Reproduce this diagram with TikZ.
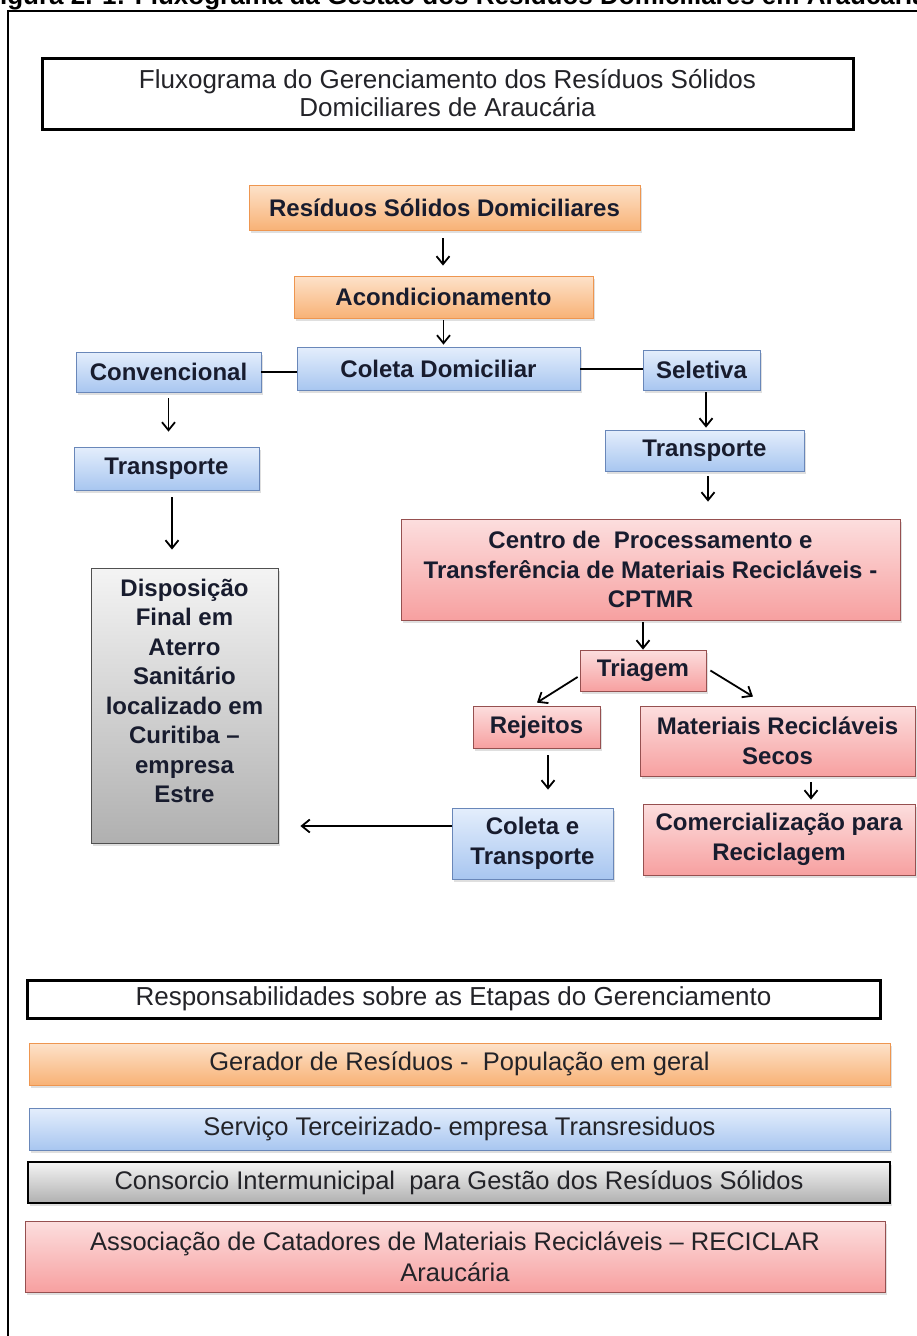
\documentclass[tikz,border=0pt]{standalone}
\usepackage{fontspec}
\setmainfont{Liberation Sans}
\usetikzlibrary{arrows.meta,calc,shadows}
\definecolor{txt}{RGB}{24,28,46}
\definecolor{ttxt}{RGB}{35,35,40}
\definecolor{otop}{RGB}{253,226,202}
\definecolor{obot}{RGB}{248,178,118}
\definecolor{obd}{RGB}{238,150,80}
\definecolor{btop}{RGB}{228,238,252}
\definecolor{bbot}{RGB}{168,198,240}
\definecolor{bbd}{RGB}{105,135,185}
\definecolor{ptop}{RGB}{252,222,222}
\definecolor{pbot}{RGB}{247,160,160}
\definecolor{pbd}{RGB}{150,80,80}
\definecolor{gtop}{RGB}{244,244,244}
\definecolor{gbot}{RGB}{176,176,176}
\definecolor{gbd}{RGB}{80,80,80}
\tikzset{
  lbl/.style={font=\bfseries\fontsize{24}{29.5}\selectfont, text=txt, align=center,
    inner sep=0pt, line width=0.8pt,
    drop shadow={shadow xshift=2pt, shadow yshift=-2.5pt, opacity=0.25}},
  obox/.style={lbl, draw=obd, top color=otop, bottom color=obot},
  bbox/.style={lbl, draw=bbd, top color=btop, bottom color=bbot},
  pbox/.style={lbl, draw=pbd, top color=ptop, bottom color=pbot},
  gbox/.style={lbl, draw=gbd, top color=gtop, bottom color=gbot},
  hbox/.style={draw=black, line width=3pt, fill=white, inner sep=0pt, align=center,
    text=ttxt, font=\fontsize{26}{28}\selectfont},
  rbox/.style={inner sep=0pt, align=center, line width=0.8pt,
    text=ttxt, font=\fontsize{25.5}{31}\selectfont,
    drop shadow={shadow xshift=2pt, shadow yshift=-2.5pt, opacity=0.25}},
  arr/.style={-{Straight Barb[length=8pt,width=13pt]}, line width=1.8pt},
  ln/.style={line width=2pt}
}
\begin{document}
\begin{tikzpicture}[x=1pt,y=-1pt]
\useasboundingbox (0,0) rectangle (917,1336);
\clip (0,0) rectangle (917,1336);
\fill[white] (0,0) rectangle (917,1336);
% caption (cut at top in the reference)
\node[font=\bfseries\fontsize{26}{26}\selectfont, anchor=base west, inner sep=0pt] (cap) at (-16,4)
  {Figura 2. 1: Fluxograma da Gestão dos Resíduos Domiciliares em Araucária};
% frame
\draw[line width=1.5pt] (8,1340) -- (8,11) -- (925,11);
% title
\node[hbox, minimum width=811pt, minimum height=71pt] (title) at (447.5,93.5)
  {Fluxograma do Gerenciamento dos Resíduos Sólidos\\Domiciliares de Araucária};
% flow boxes
\node[obox, minimum width=391pt, minimum height=45pt] (rsd) at (444.5,207.5) {Resíduos Sólidos Domiciliares};
\node[obox, minimum width=299pt, minimum height=42pt] (acond) at (443.5,297) {Acondicionamento};
\node[bbox, minimum width=283pt, minimum height=43pt] (coleta) at (438.5,368.5) {Coleta Domiciliar};
\node[bbox, minimum width=185pt, minimum height=40pt] (conv) at (168.5,372) {Convencional};
\node[bbox, minimum width=117pt, minimum height=40pt] (selet) at (701.5,370) {Seletiva};
\node[bbox, minimum width=185pt, minimum height=43pt] (transL) at (166.5,468.5) {Transporte};
\node[gbox, minimum width=187pt, minimum height=275pt] (disp) at (184.5,705.5)
  {Disposição\\Final em\\Aterro\\Sanitário\\localizado em\\Curitiba --\\empresa\\Estre\\\mbox{}};
\node[bbox, minimum width=199pt, minimum height=41pt] (transR) at (704.5,450.5) {Transporte};
\node[pbox, minimum width=499pt, minimum height=101pt] (centro) at (650.5,569.5)
  {Centro de \ Processamento e\\Transferência de Materiais Recicláveis -\\CPTMR};
\node[pbox, minimum width=126pt, minimum height=41pt] (triagem) at (643,670.5) {Triagem};
\node[pbox, minimum width=127pt, minimum height=42pt] (rejeitos) at (536.5,727) {Rejeitos};
\node[pbox, minimum width=275pt, minimum height=70pt] (matrec) at (777.5,741) {Materiais Recicláveis\\Secos};
\node[bbox, minimum width=161pt, minimum height=71pt] (coletaT) at (532.5,843.5) {Coleta e\\Transporte};
\node[pbox, minimum width=272pt, minimum height=71pt] (comerc) at (779,839.5) {Comercialização para\\Reciclagem};
% connectors
\draw[arr] ($(rsd.south)+(-1.5,8)$) -- ($(rsd.south |- acond.north)+(-1.5,-10)$);
\draw[arr] ($(acond.south)+(0,2)$) -- ($(acond.south |- coleta.north)+(0,-2)$);
\draw[ln] (conv.east) -- (conv.east -| coleta.west);
\draw[ln] (coleta.east) -- (coleta.east -| selet.west);
\draw[arr] ($(conv.south)+(0,6)$) -- ($(conv.south |- transL.north)+(0,-15)$);
\draw[arr] ($(transL.south)+(5.5,7)$) -- ($(transL.south |- disp.north)+(5.5,-18)$);
\draw[arr] ($(selet.south)+(4.5,2)$) -- ($(selet.south |- transR.north)+(4.5,-2)$);
\draw[arr] ($(transR.south)+(3.5,5)$) -- ($(transR.south |- centro.north)+(3.5,-17)$);
\draw[arr] ($(triagem.north |- centro.south)+(0,2)$) -- (triagem.north);
\draw[arr] ($(triagem.west)+(-2,6.5)$) -- ($(rejeitos.north)+(0.5,-3)$);
\draw[arr] ($(triagem.east)+(4,0)$) -- ($(matrec.north)+(-24.5,-9)$);
\draw[arr] ($(rejeitos.south)+(11.5,7)$) -- ($(rejeitos.south |- coletaT.north)+(11.5,-18)$);
\draw[arr] ($(matrec.south)+(33.5,6)$) -- ($(matrec.south |- comerc.north)+(33.5,-4)$);
\draw[arr] ($(coletaT.west)+(0,-17.5)$) -- ($(disp.east |- coletaT.west)+(22,-17.5)$);
% responsibilities
\node[hbox, minimum width=853pt, minimum height=38pt] (resp) at (453.5,999)
  {Responsabilidades sobre as Etapas do Gerenciamento};
\node[rbox, draw=obd, top color=otop, bottom color=obot, minimum width=861pt, minimum height=42pt] (gerador) at (459.5,1064)
  {Gerador de Resíduos - \ População em geral};
\node[rbox, draw=bbd, top color=btop, bottom color=bbot, minimum width=861pt, minimum height=42pt] (servico) at (459.5,1129)
  {Serviço Terceirizado- empresa Transresiduos};
\node[rbox, draw=black, line width=1.5pt, top color=gtop, bottom color=gbot, minimum width=862pt, minimum height=41pt] (consorcio) at (459,1182.5)
  {Consorcio Intermunicipal \ para Gestão dos Resíduos Sólidos};
\node[rbox, draw=pbd, top color=ptop, bottom color=pbot, minimum width=860pt, minimum height=71pt] (assoc) at (455,1256.5)
  {Associação de Catadores de Materiais Recicláveis -- RECICLAR\\Araucária};
\end{tikzpicture}
\end{document}
